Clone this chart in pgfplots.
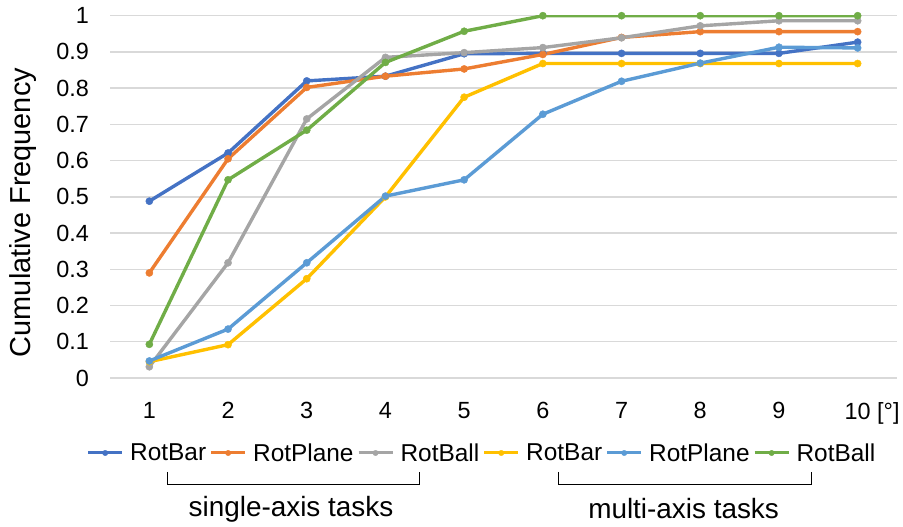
\documentclass[border=0pt]{standalone}
\usepackage{pgfplots}
\pgfplotsset{compat=1.18}
\usepackage{pgfplotstable}
\usepackage{fontspec}
\setmainfont{Liberation Sans}

\definecolor{cBlue}{HTML}{4472C4}
\definecolor{cOrange}{HTML}{ED7D31}
\definecolor{cGray}{HTML}{A5A5A5}
\definecolor{cGold}{HTML}{FFC000}
\definecolor{cLight}{HTML}{5B9BD5}
\definecolor{cGreen}{HTML}{70AD47}
\definecolor{gridgray}{HTML}{D9D9D9}

% cumulative frequency per error threshold (degrees)
% sb/sp/sl: single-axis RotBar/RotPlane/RotBall, mb/mp/ml: multi-axis
\pgfplotstableread{
x   sb     sp     sl     mb     mp     ml
1   0.488  0.290  0.031  0.045  0.047  0.093
2   0.621  0.605  0.318  0.092  0.135  0.547
3   0.820  0.802  0.715  0.274  0.318  0.684
4   0.833  0.833  0.885  0.500  0.502  0.871
5   0.895  0.853  0.898  0.775  0.547  0.957
6   0.896  0.893  0.912  0.868  0.728  1.000
7   0.896  0.940  0.939  0.868  0.819  1.000
8   0.896  0.956  0.972  0.868  0.869  1.000
9   0.896  0.956  0.986  0.868  0.913  1.000
10  0.927  0.956  0.986  0.868  0.911  1.000
}\cumdata

\pgfplotsset{
  cumline/.style={line width=3.4bp, color=#1, mark=*, mark size=3.6bp,
    mark options={solid, fill=#1, draw=#1, line width=0.4bp}},
}

\begin{document}
\begin{tikzpicture}
\useasboundingbox (0bp,0bp) rectangle (903bp,527bp);
\begin{axis}[
  at={(110bp,149bp)}, anchor=south west,
  scale only axis, width=787bp, height=362.3bp,
  xmin=0.5, xmax=10.5, ymin=0, ymax=1,
  xtick={1,2,3,4,5,6,7,8,9,10},
  xticklabels={1,2,3,4,5,6,7,8,9,{10\rlap{\ [°]}}},
  ytick={0,0.1,0.2,0.3,0.4,0.5,0.6,0.7,0.8,0.9,1},
  axis line style={draw=none},
  major tick length=0pt,
  ymajorgrids,
  grid style={color=gridgray, line width=1.4bp},
  tick label style={font=\fontsize{23.5}{28}\selectfont, inner sep=0pt},
  xticklabel shift=24bp,
  yticklabel shift=21bp,
  /pgf/number format/assume math mode=true,
  legend columns=6,
  legend style={
    at={(0.4714,-0.207)}, anchor=center,
    draw=none, fill=none,
    font=\fontsize{24.5}{29}\selectfont,
    nodes={inner sep=0pt},
    /tikz/every odd column/.append style={column sep=6.5bp},
    /tikz/every even column/.append style={column sep=3.5bp},
  },
  legend image code/.code={
    \draw[mark repeat=2, mark phase=2, #1, line width=3bp, mark size=2.7bp]
      plot coordinates {(0bp,0bp) (17bp,0bp) (34bp,0bp)};
  },
]
\addplot[cumline=cBlue]   table[x=x, y=sb] {\cumdata};
\addlegendentry{RotBar}
\addplot[cumline=cOrange] table[x=x, y=sp] {\cumdata};
\addlegendentry{RotPlane}
\addplot[cumline=cGray]   table[x=x, y=sl] {\cumdata};
\addlegendentry{RotBall}
\addplot[cumline=cGold]   table[x=x, y=mb] {\cumdata};
\addlegendentry{RotBar}
\addplot[cumline=cLight]  table[x=x, y=mp] {\cumdata};
\addlegendentry{RotPlane}
\addplot[cumline=cGreen]  table[x=x, y=ml] {\cumdata};
\addlegendentry{RotBall}
\end{axis}

% y axis title
\node[rotate=90, anchor=base, font=\fontsize{29}{34}\selectfont]
  at (30.8bp,314.5bp) {Cumulative Frequency};

% group brackets under the legend
\draw[line width=0.9bp] (167bp,55bp) -- (167bp,43bp) -- (419bp,43bp) -- (419bp,55bp);
\draw[line width=0.9bp] (558.5bp,55bp) -- (558.5bp,43bp) -- (811bp,43bp) -- (811bp,55bp);
\node[font=\fontsize{28}{33}\selectfont] at (291bp,18bp) {single-axis tasks};
\node[font=\fontsize{28}{33}\selectfont] at (683.6bp,18bp) {multi-axis tasks};
\end{tikzpicture}
\end{document}
